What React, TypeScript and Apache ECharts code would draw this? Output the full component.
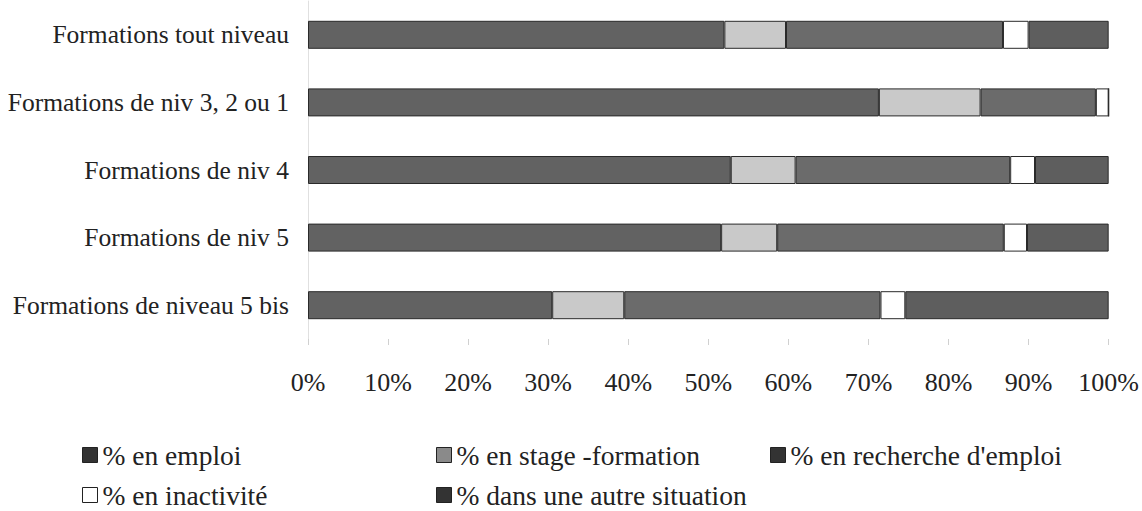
import React, { useEffect, useRef } from "react";
import * as echarts from "echarts";

const categories = [
  "Formations tout niveau",
  "Formations de niv 3, 2 ou 1",
  "Formations de niv 4",
  "Formations de niv 5",
  "Formations de niveau 5 bis",
];
const seriesNames = [
  "% en emploi",
  "% en stage -formation",
  "% en recherche d'emploi",
  "% en inactivité",
  "% dans une autre situation",
];
const enEmploi = [52.0, 71.3, 52.8, 51.6, 30.5];
const enStage = [7.7, 12.7, 8.1, 7.0, 9.0];
const enRecherche = [27.1, 14.4, 26.8, 28.3, 32.0];
const enInactivite = [3.2, 1.6, 3.1, 2.9, 3.1];
const autreSituation = [10.0, 0.0, 9.2, 10.2, 25.4];
const xTicks = [0, 10, 20, 30, 40, 50, 60, 70, 80, 90, 100];

const seriesValues = [enEmploi, enStage, enRecherche, enInactivite, autreSituation];
const barColors = ["#626262", "#c9c9c9", "#6b6b6b", "#ffffff", "#5e5e5e"];
const legendIconColors = ["#333333", "#8a8a8a", "#333333", "#ffffff", "#333333"];
const legendPos = [
  { left: 82, top: 441 },
  { left: 436, top: 441 },
  { left: 770, top: 441 },
  { left: 82, top: 481 },
  { left: 436, top: 481 },
];

const FONT = "Liberation Serif";

export default function App() {
  const ref = useRef<HTMLDivElement>(null);
  useEffect(() => {
    if (!ref.current) return;
    const chart = echarts.init(ref.current, null, { renderer: "svg" });
    chart.setOption({
      animation: false,
      backgroundColor: "#ffffff",
      grid: { left: 308, width: 802, top: 1, height: 338, containLabel: false },
      xAxis: {
        type: "value",
        min: 0,
        max: 100,
        interval: 10,
        axisLine: { show: false },
        axisTick: { show: true, length: 6, lineStyle: { color: "#d0d0d0" } },
        splitLine: { show: false },
        axisLabel: {
          margin: 30,
          fontFamily: FONT,
          fontSize: 26,
          color: "#222",
          formatter: (v: number) => (xTicks.includes(v) ? v + "%" : ""),
        },
      },
      yAxis: {
        type: "category",
        data: categories,
        inverse: true,
        axisLine: { show: true, lineStyle: { color: "#e0e0e0" } },
        axisTick: { show: false },
        axisLabel: {
          margin: 19,
          fontFamily: FONT,
          fontSize: 25.5,
          color: "#222",
        },
      },
      legend: seriesNames.map((n, i) => ({
        data: [{ name: n, itemStyle: { color: legendIconColors[i], borderColor: "#222", borderWidth: 1 } }],
        left: legendPos[i].left,
        top: legendPos[i].top,
        icon: "rect",
        itemWidth: 15,
        itemHeight: 15,
        itemGap: 0,
        padding: 0,
        textStyle: { fontFamily: FONT, fontSize: 27.5, color: "#222" },
        selectedMode: false,
      })),
      series: seriesNames.map((n, i) => ({
        name: n,
        type: "bar",
        stack: "total",
        barWidth: 28,
        data: seriesValues[i],
        itemStyle: { color: barColors[i], borderColor: "#2a2a2a", borderWidth: 1 },
      })),
    });
    return () => chart.dispose();
  }, []);
  return (
    <div
      ref={ref}
      style={{ position: "fixed", left: 0, top: 0, width: 1142, height: 511 }}
    />
  );
}
